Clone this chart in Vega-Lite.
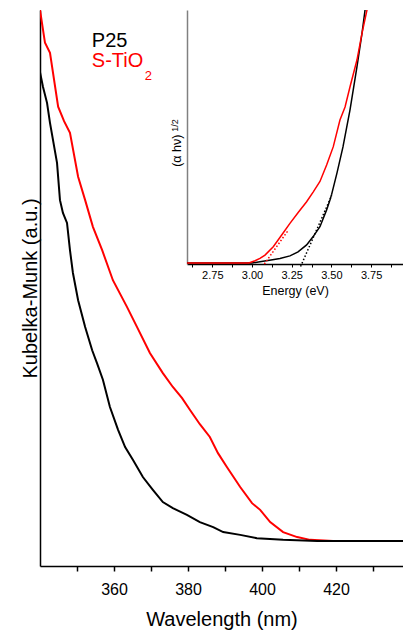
{
  "$schema": "https://vega.github.io/schema/vega-lite/v6.json",
  "width": 363,
  "height": 556,
  "autosize": {"type": "none"},
  "padding": {"left": 40, "top": 10, "right": 0, "bottom": 64},
  "background": "white",
  "config": {
    "view": {"stroke": null},
    "font": "Liberation Sans",
    "axis": {
      "labelFont": "Liberation Sans",
      "titleFont": "Liberation Sans",
      "titleFontWeight": "normal",
      "labelColor": "black",
      "titleColor": "black",
      "domainColor": "black",
      "tickColor": "black",
      "grid": false,
      "labelOverlap": false,
      "labelFlush": false
    }
  },
  "datasets": {
    "main": [
      {"s": "S-TiO2", "lam": 340.0, "km": 1.0},
      {"s": "S-TiO2", "lam": 341.35, "km": 0.941},
      {"s": "S-TiO2", "lam": 342.7, "km": 0.923},
      {"s": "S-TiO2", "lam": 344.9, "km": 0.826},
      {"s": "S-TiO2", "lam": 346.5, "km": 0.8},
      {"s": "S-TiO2", "lam": 348.1, "km": 0.779},
      {"s": "S-TiO2", "lam": 350.3, "km": 0.7},
      {"s": "S-TiO2", "lam": 352.2, "km": 0.658},
      {"s": "S-TiO2", "lam": 354.3, "km": 0.61},
      {"s": "S-TiO2", "lam": 356.8, "km": 0.568},
      {"s": "S-TiO2", "lam": 359.7, "km": 0.514},
      {"s": "S-TiO2", "lam": 363.5, "km": 0.466},
      {"s": "S-TiO2", "lam": 366.2, "km": 0.43},
      {"s": "S-TiO2", "lam": 369.7, "km": 0.383},
      {"s": "S-TiO2", "lam": 373.2, "km": 0.347},
      {"s": "S-TiO2", "lam": 375.9, "km": 0.322},
      {"s": "S-TiO2", "lam": 378.4, "km": 0.302},
      {"s": "S-TiO2", "lam": 380.5, "km": 0.281},
      {"s": "S-TiO2", "lam": 383.2, "km": 0.255},
      {"s": "S-TiO2", "lam": 385.9, "km": 0.232},
      {"s": "S-TiO2", "lam": 388.1, "km": 0.203},
      {"s": "S-TiO2", "lam": 390.5, "km": 0.178},
      {"s": "S-TiO2", "lam": 394.1, "km": 0.142},
      {"s": "S-TiO2", "lam": 397.3, "km": 0.113},
      {"s": "S-TiO2", "lam": 399.5, "km": 0.101},
      {"s": "S-TiO2", "lam": 402.2, "km": 0.079},
      {"s": "S-TiO2", "lam": 405.7, "km": 0.061},
      {"s": "S-TiO2", "lam": 409.5, "km": 0.052},
      {"s": "S-TiO2", "lam": 413.0, "km": 0.047},
      {"s": "S-TiO2", "lam": 419.2, "km": 0.045},
      {"s": "S-TiO2", "lam": 429.2, "km": 0.045},
      {"s": "S-TiO2", "lam": 438.1, "km": 0.045},
      {"s": "P25", "lam": 340.0, "km": 0.888},
      {"s": "P25", "lam": 340.8, "km": 0.862},
      {"s": "P25", "lam": 341.9, "km": 0.833},
      {"s": "P25", "lam": 342.7, "km": 0.797},
      {"s": "P25", "lam": 344.6, "km": 0.725},
      {"s": "P25", "lam": 345.4, "km": 0.658},
      {"s": "P25", "lam": 346.2, "km": 0.635},
      {"s": "P25", "lam": 347.3, "km": 0.617},
      {"s": "P25", "lam": 348.1, "km": 0.568},
      {"s": "P25", "lam": 348.9, "km": 0.527},
      {"s": "P25", "lam": 350.3, "km": 0.478},
      {"s": "P25", "lam": 352.2, "km": 0.43},
      {"s": "P25", "lam": 354.1, "km": 0.388},
      {"s": "P25", "lam": 355.4, "km": 0.365},
      {"s": "P25", "lam": 357.0, "km": 0.335},
      {"s": "P25", "lam": 358.9, "km": 0.286},
      {"s": "P25", "lam": 361.1, "km": 0.245},
      {"s": "P25", "lam": 363.0, "km": 0.214},
      {"s": "P25", "lam": 365.1, "km": 0.191},
      {"s": "P25", "lam": 367.8, "km": 0.16},
      {"s": "P25", "lam": 370.5, "km": 0.137},
      {"s": "P25", "lam": 373.2, "km": 0.115},
      {"s": "P25", "lam": 375.9, "km": 0.104},
      {"s": "P25", "lam": 379.7, "km": 0.092},
      {"s": "P25", "lam": 383.2, "km": 0.079},
      {"s": "P25", "lam": 386.8, "km": 0.07},
      {"s": "P25", "lam": 389.5, "km": 0.061},
      {"s": "P25", "lam": 394.1, "km": 0.056},
      {"s": "P25", "lam": 398.6, "km": 0.05},
      {"s": "P25", "lam": 405.7, "km": 0.047},
      {"s": "P25", "lam": 414.9, "km": 0.045},
      {"s": "P25", "lam": 438.1, "km": 0.045}
    ],
    "legendText": [
      {"s": "P25", "lam": 354.0, "km": 0.934, "t": "P25"},
      {"s": "S-TiO2", "lam": 354.0, "km": 0.897, "t": "S-TiO"}
    ],
    "subText": [
      {"s": "S-TiO2", "lam": 368.3, "km": 0.875, "t": "2"}
    ],
    "insetTitle": [
      {"lam": 377.0, "km": 0.718, "t": "(α hν)"}
    ],
    "insetSup": [
      {"lam": 376.35, "km": 0.781, "t": "1/2"}
    ],
    "inset": [
      {"s": "P25", "E": 2.5907, "v": 0.004},
      {"s": "P25", "E": 3.0, "v": 0.004},
      {"s": "P25", "E": 3.05, "v": 0.009},
      {"s": "P25", "E": 3.12, "v": 0.016},
      {"s": "P25", "E": 3.176, "v": 0.022},
      {"s": "P25", "E": 3.239, "v": 0.032},
      {"s": "P25", "E": 3.29, "v": 0.048},
      {"s": "P25", "E": 3.344, "v": 0.075},
      {"s": "P25", "E": 3.384, "v": 0.107},
      {"s": "P25", "E": 3.428, "v": 0.147},
      {"s": "P25", "E": 3.47, "v": 0.213},
      {"s": "P25", "E": 3.491, "v": 0.252},
      {"s": "P25", "E": 3.502, "v": 0.275},
      {"s": "P25", "E": 3.535, "v": 0.358},
      {"s": "P25", "E": 3.573, "v": 0.461},
      {"s": "P25", "E": 3.617, "v": 0.606},
      {"s": "P25", "E": 3.661, "v": 0.776},
      {"s": "P25", "E": 3.693, "v": 0.909},
      {"s": "P25", "E": 3.712, "v": 1.0},
      {"s": "P25", "E": 3.724, "v": 1.03},
      {"s": "S-TiO2", "E": 2.5907, "v": 0.004},
      {"s": "S-TiO2", "E": 2.98, "v": 0.004},
      {"s": "S-TiO2", "E": 3.019, "v": 0.013},
      {"s": "S-TiO2", "E": 3.05, "v": 0.022},
      {"s": "S-TiO2", "E": 3.082, "v": 0.035},
      {"s": "S-TiO2", "E": 3.134, "v": 0.068},
      {"s": "S-TiO2", "E": 3.187, "v": 0.114},
      {"s": "S-TiO2", "E": 3.239, "v": 0.16},
      {"s": "S-TiO2", "E": 3.292, "v": 0.204},
      {"s": "S-TiO2", "E": 3.344, "v": 0.245},
      {"s": "S-TiO2", "E": 3.386, "v": 0.284},
      {"s": "S-TiO2", "E": 3.428, "v": 0.325},
      {"s": "S-TiO2", "E": 3.47, "v": 0.39},
      {"s": "S-TiO2", "E": 3.512, "v": 0.462},
      {"s": "S-TiO2", "E": 3.554, "v": 0.567},
      {"s": "S-TiO2", "E": 3.586, "v": 0.618},
      {"s": "S-TiO2", "E": 3.617, "v": 0.697},
      {"s": "S-TiO2", "E": 3.661, "v": 0.803},
      {"s": "S-TiO2", "E": 3.693, "v": 0.909},
      {"s": "S-TiO2", "E": 3.724, "v": 1.0},
      {"s": "S-TiO2", "E": 3.737, "v": 1.03}
    ],
    "tangent": [
      {"s": "P25", "E": 3.306, "v": -0.01},
      {"s": "P25", "E": 3.502, "v": 0.27},
      {"s": "S-TiO2", "E": 3.078, "v": 0.0},
      {"s": "S-TiO2", "E": 3.225, "v": 0.13}
    ]
  },
  "layer": [
    {
      "layer": [
        {
          "data": {"name": "main"},
          "mark": {"type": "line", "strokeWidth": 2, "clip": true},
          "encoding": {
            "x": {
              "field": "lam", "type": "quantitative",
              "scale": {"domain": [340, 438.1], "nice": false, "zero": false},
              "axis": {
                "orient": "bottom",
                "values": [350, 360, 370, 380, 390, 400, 410, 420, 430],
                "tickCount": 30,
                "labelExpr": "datum.value % 20 == 0 ? datum.label : ''",
                "tickSize": 5, "tickWidth": 1.5, "domainWidth": 1.5,
                "labelFontSize": 16, "labelPadding": 10,
                "title": "Wavelength (nm)", "titleFontSize": 20, "titlePadding": 12
              }
            },
            "y": {
              "field": "km", "type": "quantitative",
              "scale": {"domain": [0, 1], "nice": false, "zero": false},
              "axis": {
                "orient": "left", "ticks": false, "labels": false, "domainWidth": 1.5,
                "title": "Kubelka-Munk (a.u.)", "titleFontSize": 20, "titlePadding": 0
              }
            },
            "color": {
              "field": "s", "type": "nominal",
              "scale": {"domain": ["P25", "S-TiO2"], "range": ["#000000", "#ff0000"]},
              "legend": null
            }
          }
        },
        {
          "mark": {"type": "rule", "color": "black", "strokeWidth": 1.5},
          "encoding": {"y": {"datum": 1, "type": "quantitative"}}
        },
        {
          "data": {"name": "legendText"},
          "mark": {"type": "text", "align": "left", "baseline": "alphabetic", "fontSize": 20, "font": "Liberation Sans"},
          "encoding": {
            "x": {"field": "lam", "type": "quantitative"},
            "y": {"field": "km", "type": "quantitative"},
            "text": {"field": "t"},
            "color": {"field": "s", "type": "nominal"}
          }
        },
        {
          "data": {"name": "subText"},
          "mark": {"type": "text", "align": "left", "baseline": "alphabetic", "fontSize": 13, "font": "Liberation Sans"},
          "encoding": {
            "x": {"field": "lam", "type": "quantitative"},
            "y": {"field": "km", "type": "quantitative"},
            "text": {"field": "t"},
            "color": {"field": "s", "type": "nominal"}
          }
        },
        {
          "data": {"name": "insetTitle"},
          "mark": {"type": "text", "align": "left", "baseline": "middle", "angle": 270, "fontSize": 12.5, "font": "Liberation Sans", "color": "black"},
          "encoding": {
            "x": {"field": "lam", "type": "quantitative"},
            "y": {"field": "km", "type": "quantitative"},
            "text": {"field": "t"}
          }
        },
        {
          "data": {"name": "insetSup"},
          "mark": {"type": "text", "align": "left", "baseline": "middle", "angle": 270, "fontSize": 9, "font": "Liberation Sans", "color": "black"},
          "encoding": {
            "x": {"field": "lam", "type": "quantitative"},
            "y": {"field": "km", "type": "quantitative"},
            "text": {"field": "t"}
          }
        }
      ]
    },
    {
      "layer": [
        {
          "data": {"name": "inset"},
          "mark": {"type": "line", "strokeWidth": 1.5, "clip": true},
          "encoding": {
            "x": {
              "field": "E", "type": "quantitative",
              "scale": {"domain": [2.5907, 3.951], "range": [147, 363], "nice": false, "zero": false},
              "axis": {
                "orient": "bottom", "offset": -302,
                "values": [2.625, 2.75, 2.875, 3.0, 3.125, 3.25, 3.375, 3.5, 3.625, 3.75, 3.875],
                "tickCount": 30,
                "labelExpr": "round(datum.value * 100) % 25 == 0 ? format(datum.value, '.2f') : ''",
                "tickSize": 3, "domainWidth": 1.5,
                "labelFontSize": 11, "labelPadding": 2,
                "title": "Energy (eV)", "titleFontSize": 12.5, "titlePadding": 4
              }
            },
            "y": {
              "field": "v", "type": "quantitative",
              "scale": {"domain": [0, 1], "range": [254, 0], "nice": false, "zero": false},
              "axis": {
                "orient": "left", "offset": -147, "ticks": false, "labels": false,
                "domainColor": "#808080", "domainWidth": 1.5, "title": null
              }
            },
            "color": {"field": "s", "type": "nominal"}
          }
        },
        {
          "data": {"name": "tangent"},
          "mark": {"type": "line", "strokeWidth": 1.5, "strokeDash": [1.5, 2]},
          "encoding": {
            "x": {"field": "E", "type": "quantitative"},
            "y": {"field": "v", "type": "quantitative"},
            "color": {"field": "s", "type": "nominal"}
          }
        }
      ]
    }
  ],
  "resolve": {"scale": {"x": "independent", "y": "independent"}}
}
